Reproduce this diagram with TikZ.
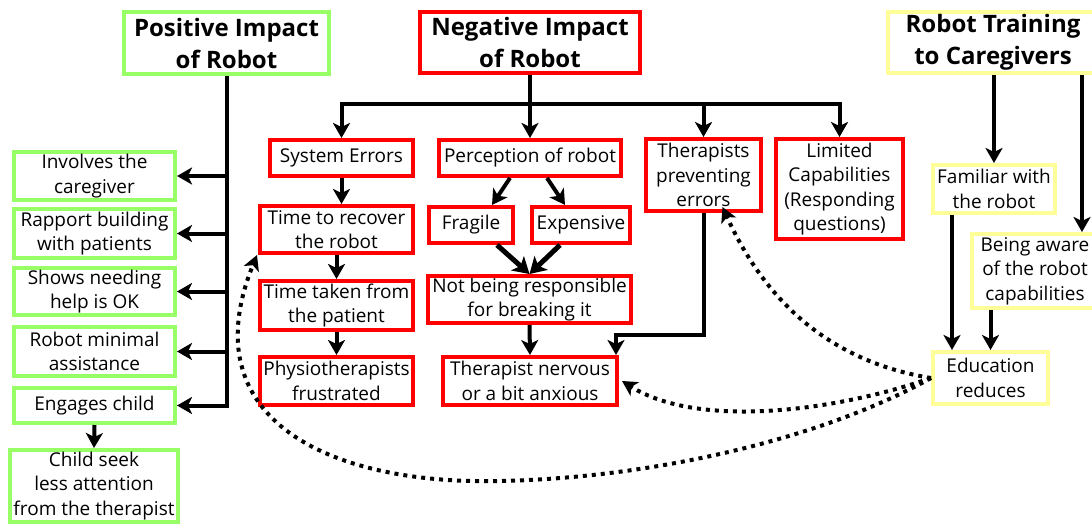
\documentclass[tikz,border=0pt]{standalone}
\usepackage{fontspec}
\setmainfont{Open Sans}
\usetikzlibrary{arrows.meta}
\definecolor{lgreen}{RGB}{153,255,102}
\definecolor{lred}{RGB}{255,0,0}
\definecolor{lyellow}{RGB}{255,255,153}
\begin{document}
\begin{tikzpicture}[x=1pt,y=-1pt,
  box/.style={draw, line width=4pt, align=center, inner sep=0pt,
    font=\fontsize{19}{24.5}\selectfont},
  gbox/.style={box, draw=lgreen},
  rbox/.style={box, draw=lred},
  ybox/.style={box, draw=lyellow},
  title/.style={font=\fontsize{24}{32}\selectfont\bfseries},
  conn/.style={line width=4pt, -{Stealth[length=15pt,width=17pt,inset=4pt]}},
  thickconn/.style={line width=5pt, -{Stealth[length=16pt,width=19pt,inset=4pt]}},
  hint/.style={line width=4pt, dash pattern=on 4pt off 5pt,
    -{Stealth[length=15pt,width=16pt,inset=4pt]}}]
\useasboundingbox (0,0) rectangle (1092,525);

% headings
\node[gbox, title, minimum width=205, minimum height=62] (pos) at (226.5,43) {Positive Impact\\of Robot};
\node[rbox, title, minimum width=220, minimum height=61] (neg) at (530,42.5) {Negative Impact\\of Robot};
\node[ybox, title, minimum width=210, minimum height=61] (train) at (993,42.5) {Robot Training\\to Caregivers};

% positive branch
\node[gbox, minimum width=161, minimum height=48] (inv) at (94.5,176) {Involves the\\caregiver};
\node[gbox, minimum width=161, minimum height=49] (rap) at (94.5,233.5) {Rapport building\\with patients};
\node[gbox, minimum width=161, minimum height=47] (help) at (94.5,291.5) {Shows needing\\help is OK};
\node[gbox, minimum width=161, minimum height=49] (mini) at (94.5,351.5) {Robot minimal\\assistance};
\node[gbox, minimum width=161, minimum height=35] (eng) at (94.5,405.5) {Engages child};
\node[gbox, minimum width=168, minimum height=72] (seek) at (94,486) {Child seek\\less attention\\from the therapist};

% negative branch
\node[rbox, minimum width=143, minimum height=36] (sys) at (341.5,158) {System Errors};
\node[rbox, minimum width=182, minimum height=36] (perc) at (530,158) {Perception of robot};
\node[rbox, minimum width=115, minimum height=72] (tprev) at (703.5,175) {Therapists\\preventing\\errors};
\node[rbox, minimum width=127, minimum height=100] (lim) at (839.5,189) {Limited\\Capabilities\\(Responding\\questions)};
\node[rbox, minimum width=153, minimum height=47] (rec) at (336.5,229.5) {Time to recover\\the robot};
\node[rbox, minimum width=153, minimum height=49] (taken) at (336.5,305.5) {Time taken from\\the patient};
\node[rbox, minimum width=153, minimum height=48] (phys) at (336.5,381) {Physiotherapists\\frustrated};
\node[rbox, minimum width=84, minimum height=36] (frag) at (471,225) {Fragile};
\node[rbox, minimum width=98, minimum height=36] (exp) at (581,225) {Expensive};
\node[rbox, minimum width=203, minimum height=47] (resp) at (529.5,299.5) {Not being responsible\\for breaking it};
\node[rbox, minimum width=174, minimum height=48] (nerv) at (530,381) {Therapist nervous\\or a bit anxious};

% training branch
\node[ybox, minimum width=122, minimum height=48] (fam) at (994,189) {Familiar with\\the robot};
\node[ybox, minimum width=126, minimum height=74] (aware) at (1035,271) {Being aware\\of the robot\\capabilities};
\node[ybox, minimum width=115, minimum height=52] (edu) at (990.5,378) {Education\\reduces};

% positive connectors
\foreach \b in {inv,rap,help,mini,eng}
  \draw[conn] (pos.south) |- (\b.east);
\draw[conn] (eng.south) -- (seek.north);

% negative connectors
\coordinate (bus) at (530,104);
\draw[conn] (neg.south) -- (perc.north);
\draw[conn] (bus) -| (sys.north);
\draw[conn] (bus) -| (tprev.north);
\draw[conn] (bus) -| (lim.north);
\draw[conn] (sys.south) -- (sys.south |- rec.north);
\draw[conn] (rec.south) -- (taken.north);
\draw[conn] (taken.south) -- (phys.north);
\draw[conn] ([xshift=-20pt]perc.south) -- ([xshift=21pt]frag.north);
\draw[conn] ([xshift=17pt]perc.south) -- ([xshift=-16pt]exp.north);
\draw[thickconn] ([xshift=26pt]frag.south) -- (resp.north);
\draw[thickconn] ([xshift=-21pt]exp.south) -- (resp.north);
\draw[conn] (resp.south) -- (nerv.north);
\draw[conn] (tprev.south) -- (tprev.south |- 0,335) -| ([xshift=-3pt]nerv.north east);

% training connectors
\draw[conn] (fam.north |- train.south) -- (fam.north);
\draw[conn] ([xshift=89pt]train.south) -- ([xshift=89pt]train.south |- aware.north);
\draw[conn] ([xshift=-42pt]fam.south) -- ([xshift=-42pt]fam.south |- edu.north);
\draw[conn] (edu.north |- aware.south) -- (edu.north);

% education links
\draw[hint] (edu.west) .. controls (820,360) and (760,290) .. ([shift={(19pt,6pt)}]tprev.south);
\draw[hint] (edu.west) .. controls (840,410) and (700,430) .. ([xshift=3pt]nerv.east);
\draw[hint] (edu.west) .. controls (820,440) and (650,478) .. (500,481)
  .. controls (330,485) and (190,420) .. ([xshift=-1pt]rec.south west);
\end{tikzpicture}
\end{document}
